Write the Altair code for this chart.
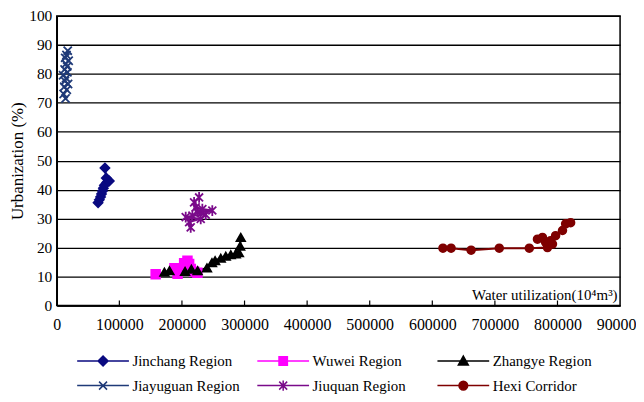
import altair as alt
import pandas as pd

series_names = ["Jinchang Region", "Wuwei Region", "Zhangye Region",
                "Jiayuguan Region", "Jiuquan Region", "Hexi Corridor"]
series_colors = ["#0A0A80", "#FF00FF", "#000000", "#1F3A78", "#7A0A8A", "#7F0000"]
marker_sizes = [80, 60, 85, 95, 140, 60]

jinchang_x = [66000, 68000, 70000, 71500, 73000, 74500, 76000, 80000, 84000, 79000, 77000]
jinchang_y = [35.5, 36.5, 37.5, 38.5, 39.5, 40.5, 41.5, 42.5, 43.0, 44.0, 47.5]

wuwei_x = [158000, 193000, 224700, 219400, 188000, 214200, 211500, 203500, 208800]
wuwei_y = [10.8, 11.0, 11.3, 11.7, 12.9, 12.6, 14.3, 14.6, 15.5]

zhangye_x = [172000, 180000, 205000, 215000, 225000, 240000, 248000, 253000,
             262000, 270000, 278000, 286000, 291000, 293000, 294000]
zhangye_y = [11.5, 12.0, 11.8, 12.5, 12.0, 13.0, 14.8, 15.5,
             16.3, 17.0, 17.5, 17.8, 18.2, 20.5, 23.5]

jiayuguan_x = [14000, 11000, 16000, 12000, 18000, 13000, 15000, 10000,
               17000, 12500, 16500, 14500, 19000, 13500, 15500, 17500]
jiayuguan_y = [71.5, 73.0, 74.5, 75.5, 76.5, 77.5, 78.5, 79.5,
               80.5, 81.5, 82.5, 83.5, 84.5, 85.5, 86.5, 88.0]

jiuquan_x = [214000, 211500, 230000, 206000, 216700, 238000, 224700, 248500,
             232600, 222000, 219400, 227400]
jiuquan_y = [27.0, 28.8, 29.9, 30.5, 31.0, 31.4, 32.2, 32.8, 33.3, 33.9, 35.6, 37.3]

hexi_x = [617000, 630000, 662000, 707000, 755000, 784000, 781000, 768000,
          776000, 792000, 789000, 797000, 808000, 813000, 821000]
hexi_y = [19.8, 19.8, 19.1, 19.8, 19.8, 20.0, 21.8, 22.9,
          23.5, 21.2, 22.4, 24.1, 25.9, 28.2, 28.6]

x_ticks = [100000, 200000, 300000, 400000, 500000, 600000, 700000, 800000]
x_label_values = [0] + x_ticks + [900000]
y_values = [0, 10, 20, 30, 40, 50, 60, 70, 80, 90, 100]

# marker shapes (unit paths)
marker_paths = [
    "diamond",
    "square",
    "triangle-up",
    "M-1,-1L1,1M-1,1L1,-1",
    "M-1,-1L1,1M-1,1L1,-1M0,-1.35V1.35",
    "circle",
]
# legend symbols: line + marker (1 unit = 4px, symbol centre at 5px)
_line = "M-1.25,0H11.75"
legend_paths = [
    _line + "M5.25,-1.25L6.5,0L5.25,1.25L4,0Z",
    _line + "M4.2,-1.05H6.3V1.05H4.2Z",
    _line + "M5.25,-1.25L6.5,1L4,1Z",
    _line + "M4.25,-1L6.25,1M4.25,1L6.25,-1",
    _line + "M4.25,-1L6.25,1M4.25,1L6.25,-1M5.25,-1.3V1.3",
    _line + "M4.15,0A1.1,1.1,0,1,1,6.35,0A1.1,1.1,0,1,1,4.15,0Z",
]

all_x = [jinchang_x, wuwei_x, zhangye_x, jiayuguan_x, jiuquan_x, hexi_x]
all_y = [jinchang_y, wuwei_y, zhangye_y, jiayuguan_y, jiuquan_y, hexi_y]
rows = []
for name, xs, ys in zip(series_names, all_x, all_y):
    for i, (xv, yv) in enumerate(zip(xs, ys)):
        rows.append({"series": name, "x": xv, "y": yv, "idx": i})
df = pd.DataFrame(rows)

FONT = "Liberation Serif"
W, H = 566, 291

xscale = alt.Scale(domain=[0, 900000], nice=False, zero=False)
yscale = alt.Scale(domain=[0, 100], nice=False)
color_scale = alt.Scale(domain=series_names, range=series_colors)
shape_scale = alt.Scale(domain=series_names, range=marker_paths)
size_scale = alt.Scale(domain=series_names, range=marker_sizes)
legend_shape_scale = alt.Scale(domain=series_names, range=legend_paths)


def make_x_axis():
    return alt.Axis(values=x_label_values, tickCount=20, format="d", grid=False,
                    tickSize=0, labelPadding=11, labelFont=FONT, labelFontSize=16,
                    labelColor="black", domainColor="black", domainWidth=1.5,
                    labelOverlap=False,
                    title="Water utilization(10\u2074m\u00b3)", titleFont=FONT,
                    titleFontSize=15, titleFontWeight="normal", titleColor="black",
                    titleX=W - 3, titleY=-6, titleAlign="right",
                    titleBaseline="alphabetic", labelFlush=False)


def make_y_axis():
    return alt.Axis(values=y_values, tickCount=20, grid=True, gridColor="black",
                    gridWidth=1.3, tickSize=0, labelPadding=5, labelFont=FONT,
                    labelFontSize=15.5, labelColor="black", domainColor="black",
                    domainWidth=1.5, labelOverlap=False,
                    title="Urbanization (%)", titleFont=FONT,
                    titleFontSize=17, titleFontWeight="normal", titleColor="black",
                    titleX=-39, titleY=H / 2, titleAlign="center",
                    titleBaseline="middle", titleAngle=-90)


lines = alt.Chart(df).mark_line(strokeWidth=2).encode(
    x=alt.X("x:Q", scale=xscale, axis=make_x_axis()),
    y=alt.Y("y:Q", scale=yscale, axis=make_y_axis()),
    stroke=alt.Stroke("series:N", scale=color_scale, legend=None),
    detail="series:N",
    order="idx:Q",
)

points = alt.Chart(df).mark_point(opacity=1, strokeWidth=1.8).encode(
    x=alt.X("x:Q", scale=xscale, axis=make_x_axis()),
    y=alt.Y("y:Q", scale=yscale, axis=make_y_axis()),
    shape=alt.Shape("series:N", scale=shape_scale, legend=None),
    fill=alt.Fill("series:N", scale=color_scale, legend=None),
    stroke=alt.Stroke("series:N", scale=color_scale, legend=None),
    size=alt.Size("series:N", scale=size_scale, legend=None),
)

tick_df = pd.DataFrame({"v": x_ticks})
ticks = alt.Chart(tick_df).mark_rule(color="black", strokeWidth=1.2).encode(
    x=alt.X("v:Q", scale=xscale, axis=make_x_axis()),
    y=alt.value(H),
    y2=alt.value(H - 5),
)

leg = alt.Legend(orient="none", legendX=18, legendY=339, columns=3,
                 direction="horizontal",
                 columnPadding=14, rowPadding=8, gridAlign="all",
                 symbolSize=64, symbolStrokeWidth=1.5, labelOffset=43,
                 labelFont=FONT, labelFontSize=15, labelColor="black",
                 title=None)
legend_layer = alt.Chart(pd.DataFrame({"series": series_names})).transform_filter(
    "false").mark_point(opacity=1, filled=True).encode(
    shape=alt.Shape("series:N", scale=legend_shape_scale, legend=leg),
    fill=alt.Fill("series:N", scale=color_scale, legend=leg),
    stroke=alt.Stroke("series:N", scale=color_scale, legend=leg),
)

chart = alt.layer(ticks, lines, points, legend_layer).resolve_scale(
    shape="independent", fill="independent", stroke="independent",
    size="independent"
).properties(
    width=W, height=H,
    autosize=alt.AutoSizeParams(type="none"),
    padding={"left": 49, "top": 7, "right": 16, "bottom": 88},
    background="white",
).configure_view(stroke="black", strokeWidth=1.5)

chart.save("out.html", embed_options={"renderer": "svg", "actions": False})
